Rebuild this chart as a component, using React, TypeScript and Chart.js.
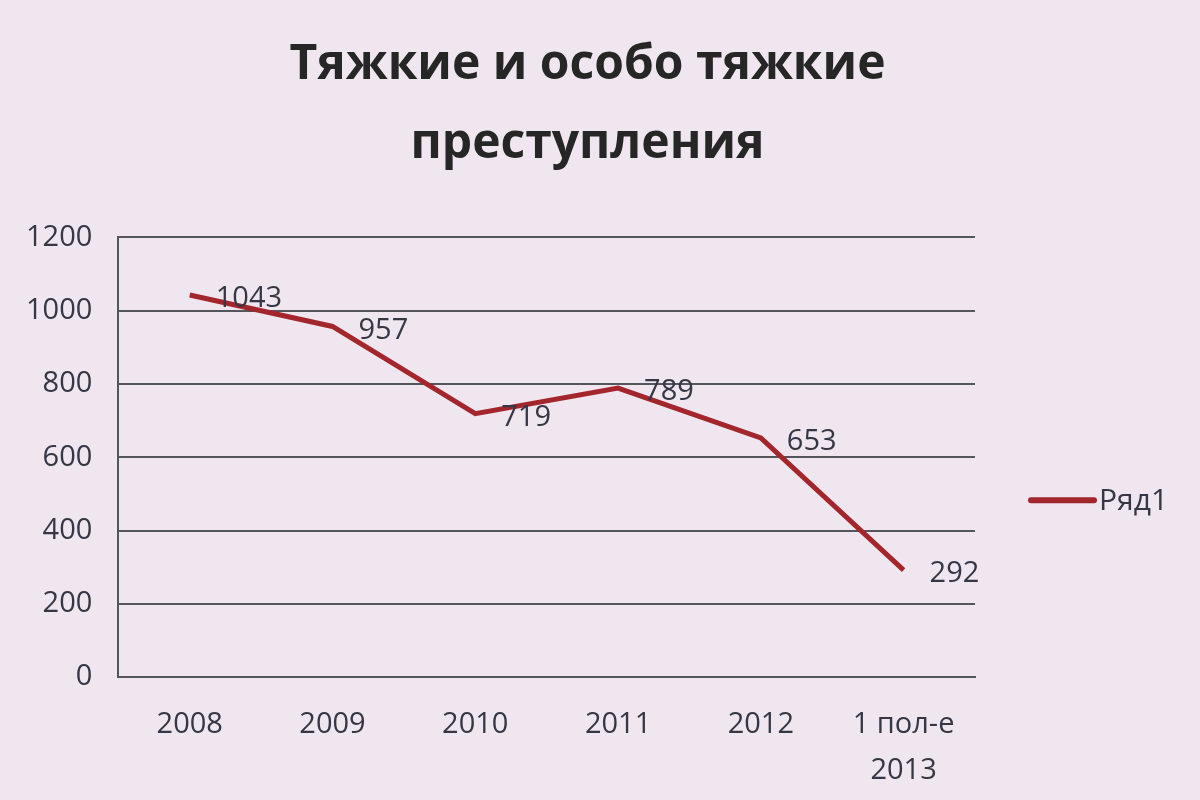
import React, { useEffect, useRef } from "react";
import { Chart, registerables } from "chart.js";

Chart.register(...registerables);

const categories: (string | string[])[] = ["2008", "2009", "2010", "2011", "2012", ["1 пол-е", "2013"]];
const values = [1043, 957, 719, 789, 653, 292];
const seriesName = "Ряд1";
const titleLines = ["Тяжкие и особо тяжкие", "преступления"];
const yTicks = { min: 0, max: 1200, step: 200 };

const FONT = "'Open Sans', 'Noto Sans', sans-serif";
const TEXT = "#363644";
const LINE = "#a3262c";
const FS = 29;

const labelPlugin = {
  id: "pointLabels",
  afterDatasetsDraw(chart: any) {
    const ctx = chart.ctx;
    const meta = chart.getDatasetMeta(0);
    ctx.save();
    ctx.font = `${FS}px ${FONT}`;
    ctx.fillStyle = TEXT;
    ctx.textAlign = "left";
    ctx.textBaseline = "middle";
    meta.data.forEach((pt: any, i: number) => {
      ctx.fillText(String(values[i]), pt.x + 26, pt.y + 4);
    });
    ctx.restore();
  },
};

// legend drawn at the right of the plot area, from the dataset's own label and colour
const sideLegend = {
  id: "sideLegend",
  afterDraw(chart: any) {
    const ctx = chart.ctx;
    const ds = chart.data.datasets[0];
    const area = chart.chartArea;
    const x0 = area.right + 56;
    const y = (area.top + area.bottom) / 2 + 43;
    ctx.save();
    ctx.strokeStyle = ds.borderColor;
    ctx.lineWidth = 6;
    ctx.lineCap = "round";
    ctx.beginPath();
    ctx.moveTo(x0, y);
    ctx.lineTo(x0 + 63, y);
    ctx.stroke();
    ctx.font = `30px ${FONT}`;
    ctx.fillStyle = TEXT;
    ctx.textAlign = "left";
    ctx.textBaseline = "middle";
    ctx.fillText(ds.label, x0 + 68, y + 1);
    ctx.restore();
  },
};

export default function App() {
  const ref = useRef<HTMLCanvasElement>(null);
  useEffect(() => {
    document.body.style.margin = "0";
    const chart = new Chart(ref.current!, {
      type: "line",
      data: {
        labels: categories,
        datasets: [
          {
            label: seriesName,
            data: values,
            borderColor: LINE,
            backgroundColor: LINE,
            borderWidth: 5,
            pointRadius: 0,
            tension: 0,
          },
        ],
      },
      options: {
        animation: false,
        responsive: false,
        layout: { padding: { left: 0, right: 25, top: 26, bottom: -18 } },
        plugins: {
          title: {
            display: true,
            text: titleLines,
            color: "#262626",
            font: { family: FONT, size: 48, weight: "bold", lineHeight: 1.65 },
            padding: { top: 0, bottom: 53 },
          },
          legend: { display: false },
          tooltip: { enabled: false },
        },
        scales: {
          x: {
            offset: true,
            grid: { display: false, drawTicks: false },
            border: { display: true, color: "#55555c", width: 2 },
            ticks: {
              color: TEXT,
              font: { family: FONT, size: FS, lineHeight: 1.6 },
              padding: 24,
              maxRotation: 0,
            },
          },
          y: {
            min: yTicks.min,
            max: yTicks.max,
            ticks: {
              stepSize: yTicks.step,
              color: TEXT,
              font: { family: FONT, size: FS },
              padding: 26,
              callback: (v: any) => String(v),
            },
            grid: { color: "#55555c", lineWidth: 2, drawTicks: false },
            border: { display: true, color: "#55555c", width: 2 },
          },
          legendSpace: {
            type: "linear",
            position: "right",
            display: true,
            grid: { display: false, drawTicks: false },
            border: { display: false },
            ticks: { display: false },
            afterFit: (s: any) => {
              s.width = 200;
            },
          },
        },
      },
      plugins: [labelPlugin, sideLegend],
    });
    return () => chart.destroy();
  }, []);
  return (
    <div style={{ width: 1200, height: 800, background: "#efe6f0" }}>
      <canvas ref={ref} width={1200} height={800} />
    </div>
  );
}
